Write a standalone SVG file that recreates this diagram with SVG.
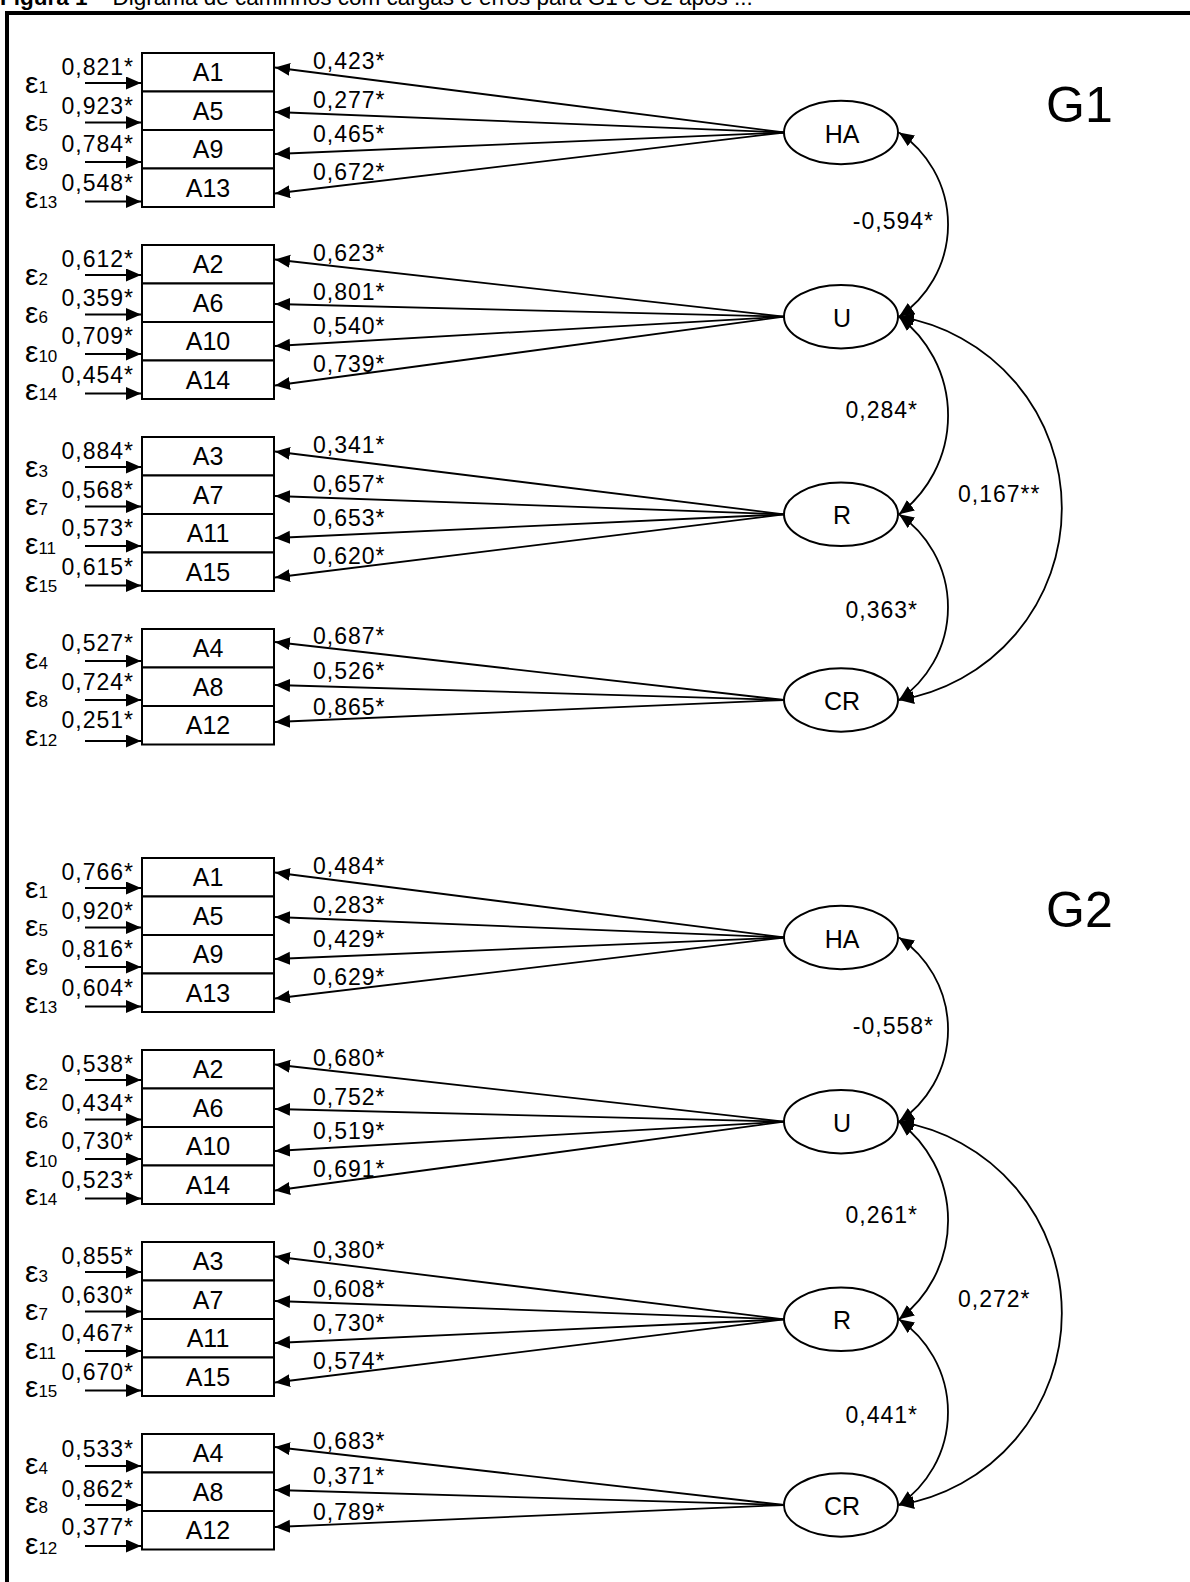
<svg xmlns="http://www.w3.org/2000/svg" width="1190" height="1582" viewBox="0 0 1190 1582">
<style>
.bx{fill:#fff;stroke:#000;stroke-width:2}
.el{fill:#fff;stroke:#000;stroke-width:2}
.ln{fill:none;stroke:#000;stroke-width:1.8;marker-end:url(#ah)}
.arc{fill:none;stroke:#000;stroke-width:1.8;marker-start:url(#ahs);marker-end:url(#ah)}
text{font-family:"Liberation Sans",Arial,sans-serif;fill:#000}
.lb{font-size:25px;text-anchor:middle}
.n{font-size:23px;letter-spacing:1px}
.r{text-anchor:end}
.e{font-size:30px}
.s{font-size:17px}
.g{font-size:50px}
</style>
<defs>
<marker id="ah" markerUnits="userSpaceOnUse" markerWidth="16" markerHeight="14" refX="15" refY="6.5" orient="auto"><path d="M0,0 L15,6.5 L0,13 z" fill="#000"/></marker>
<marker id="ahs" markerUnits="userSpaceOnUse" markerWidth="16" markerHeight="14" refX="15" refY="6.5" orient="auto-start-reverse"><path d="M0,0 L15,6.5 L0,13 z" fill="#000"/></marker>
</defs>
<rect width="1190" height="1582" fill="#fff"/>
<text x="0" y="5" font-size="22.5"><tspan font-weight="bold">Figura 1</tspan> – Digrama de caminhos com cargas e erros para G1 e G2 após ...</text>
<path d="M5,13 H1190 M7,11 V1582" stroke="#000" stroke-width="4" fill="none"/>

<!-- ===== G1 ===== -->
<text class="g" x="1046" y="121.5">G1</text>

<g id="g1-connectors">
<path class="ln" d="M85,83 H141"/><path class="ln" d="M85,122.5 H141"/><path class="ln" d="M85,162 H141"/><path class="ln" d="M85,201.5 H141"/>
<path class="ln" d="M85,275 H141"/><path class="ln" d="M85,314.5 H141"/><path class="ln" d="M85,354 H141"/><path class="ln" d="M85,393.5 H141"/>
<path class="ln" d="M85,467 H141"/><path class="ln" d="M85,506.5 H141"/><path class="ln" d="M85,546 H141"/><path class="ln" d="M85,585.5 H141"/>
<path class="ln" d="M85,661 H141"/><path class="ln" d="M85,700 H141"/><path class="ln" d="M85,741 H141"/>
<path class="ln" d="M784,132.5 L275,67.5"/><path class="ln" d="M784,132.5 L275,112"/><path class="ln" d="M784,132.5 L275,154"/><path class="ln" d="M784,132.5 L275,193.5"/>
<path class="ln" d="M784,316.7 L275,259.5"/><path class="ln" d="M784,316.7 L275,304"/><path class="ln" d="M784,316.7 L275,346"/><path class="ln" d="M784,316.7 L275,385.5"/>
<path class="ln" d="M784,514.3 L275,451.5"/><path class="ln" d="M784,514.3 L275,496"/><path class="ln" d="M784,514.3 L275,538"/><path class="ln" d="M784,514.3 L275,577.5"/>
<path class="ln" d="M784,700 L275,642"/><path class="ln" d="M784,700 L275,685"/><path class="ln" d="M784,700 L275,722"/>
<path class="arc" d="M899,132.5 A111,111 0 0 1 899,316.7"/>
<path class="arc" d="M899,316.7 A124,124 0 0 1 899,514.3"/>
<path class="arc" d="M899,514.3 A112.5,112.5 0 0 1 899,700"/>
<path class="arc" d="M899,316.7 A194.2,194.2 0 0 1 899,700"/>
<text class="n" x="313" y="68.5">0,423*</text><text class="n" x="313" y="107.5">0,277*</text><text class="n" x="313" y="141.5">0,465*</text><text class="n" x="313" y="180">0,672*</text>
<text class="n" x="313" y="260.5">0,623*</text><text class="n" x="313" y="299.5">0,801*</text><text class="n" x="313" y="333.5">0,540*</text><text class="n" x="313" y="372">0,739*</text>
<text class="n" x="313" y="452.5">0,341*</text><text class="n" x="313" y="491.5">0,657*</text><text class="n" x="313" y="525.5">0,653*</text><text class="n" x="313" y="564">0,620*</text>
<text class="n" x="313" y="644">0,687*</text><text class="n" x="313" y="679">0,526*</text><text class="n" x="313" y="715">0,865*</text>
<text class="n r" x="134" y="75">0,821*</text><text class="n r" x="134" y="113.5">0,923*</text><text class="n r" x="134" y="152">0,784*</text><text class="n r" x="134" y="190.5">0,548*</text>
<text class="n r" x="134" y="267">0,612*</text><text class="n r" x="134" y="305.5">0,359*</text><text class="n r" x="134" y="344">0,709*</text><text class="n r" x="134" y="382.5">0,454*</text>
<text class="n r" x="134" y="459">0,884*</text><text class="n r" x="134" y="497.5">0,568*</text><text class="n r" x="134" y="536">0,573*</text><text class="n r" x="134" y="574.5">0,615*</text>
<text class="n r" x="134" y="651">0,527*</text><text class="n r" x="134" y="689.5">0,724*</text><text class="n r" x="134" y="728">0,251*</text>
<text class="n r" x="934" y="229">-0,594*</text>
<text class="n r" x="918" y="418">0,284*</text>
<text class="n" x="958" y="502">0,167**</text>
<text class="n r" x="918" y="618">0,363*</text>
</g>

<g id="g1-errors">
<text class="e" x="25" y="93">ε<tspan class="s">1</tspan></text><text class="e" x="25" y="131.3">ε<tspan class="s">5</tspan></text><text class="e" x="25" y="169.6">ε<tspan class="s">9</tspan></text><text class="e" x="25" y="207.9">ε<tspan class="s">13</tspan></text>
<text class="e" x="25" y="285">ε<tspan class="s">2</tspan></text><text class="e" x="25" y="323.3">ε<tspan class="s">6</tspan></text><text class="e" x="25" y="361.6">ε<tspan class="s">10</tspan></text><text class="e" x="25" y="399.9">ε<tspan class="s">14</tspan></text>
<text class="e" x="25" y="477">ε<tspan class="s">3</tspan></text><text class="e" x="25" y="515.3">ε<tspan class="s">7</tspan></text><text class="e" x="25" y="553.6">ε<tspan class="s">11</tspan></text><text class="e" x="25" y="591.9">ε<tspan class="s">15</tspan></text>
<text class="e" x="25" y="669">ε<tspan class="s">4</tspan></text><text class="e" x="25" y="707.3">ε<tspan class="s">8</tspan></text><text class="e" x="25" y="745.6">ε<tspan class="s">12</tspan></text>
</g>

<g id="g1-A1"><rect class="bx" x="142" y="53" width="132" height="38.5"/><text class="lb" x="208" y="81.3">A1</text></g>
<g id="g1-A5"><rect class="bx" x="142" y="91.5" width="132" height="38.5"/><text class="lb" x="208" y="119.8">A5</text></g>
<g id="g1-A9"><rect class="bx" x="142" y="130" width="132" height="38.5"/><text class="lb" x="208" y="158.3">A9</text></g>
<g id="g1-A13"><rect class="bx" x="142" y="168.5" width="132" height="38.5"/><text class="lb" x="208" y="196.8">A13</text></g>
<g id="g1-A2"><rect class="bx" x="142" y="245" width="132" height="38.5"/><text class="lb" x="208" y="273.3">A2</text></g>
<g id="g1-A6"><rect class="bx" x="142" y="283.5" width="132" height="38.5"/><text class="lb" x="208" y="311.8">A6</text></g>
<g id="g1-A10"><rect class="bx" x="142" y="322" width="132" height="38.5"/><text class="lb" x="208" y="350.3">A10</text></g>
<g id="g1-A14"><rect class="bx" x="142" y="360.5" width="132" height="38.5"/><text class="lb" x="208" y="388.8">A14</text></g>
<g id="g1-A3"><rect class="bx" x="142" y="437" width="132" height="38.5"/><text class="lb" x="208" y="465.3">A3</text></g>
<g id="g1-A7"><rect class="bx" x="142" y="475.5" width="132" height="38.5"/><text class="lb" x="208" y="503.8">A7</text></g>
<g id="g1-A11"><rect class="bx" x="142" y="514" width="132" height="38.5"/><text class="lb" x="208" y="542.3">A11</text></g>
<g id="g1-A15"><rect class="bx" x="142" y="552.5" width="132" height="38.5"/><text class="lb" x="208" y="580.8">A15</text></g>
<g id="g1-A4"><rect class="bx" x="142" y="629" width="132" height="38.5"/><text class="lb" x="208" y="657.3">A4</text></g>
<g id="g1-A8"><rect class="bx" x="142" y="667.5" width="132" height="38.5"/><text class="lb" x="208" y="695.8">A8</text></g>
<g id="g1-A12"><rect class="bx" x="142" y="706" width="132" height="38.5"/><text class="lb" x="208" y="734.3">A12</text></g>

<g id="g1-HA"><ellipse class="el" cx="841" cy="132.5" rx="57" ry="31.8"/><text class="lb" x="842" y="142.5">HA</text></g>
<g id="g1-U"><ellipse class="el" cx="841" cy="316.7" rx="57" ry="31.8"/><text class="lb" x="842" y="326.7">U</text></g>
<g id="g1-R"><ellipse class="el" cx="841" cy="514.3" rx="57" ry="31.8"/><text class="lb" x="842" y="524.3">R</text></g>
<g id="g1-CR"><ellipse class="el" cx="841" cy="700" rx="57" ry="31.8"/><text class="lb" x="842" y="710">CR</text></g>

<!-- ===== G2 ===== -->
<text class="g" x="1046" y="926.5">G2</text>

<g id="g2-connectors">
<path class="ln" d="M85,888 H141"/><path class="ln" d="M85,927.5 H141"/><path class="ln" d="M85,967 H141"/><path class="ln" d="M85,1006.5 H141"/>
<path class="ln" d="M85,1080 H141"/><path class="ln" d="M85,1119.5 H141"/><path class="ln" d="M85,1159 H141"/><path class="ln" d="M85,1198.5 H141"/>
<path class="ln" d="M85,1272 H141"/><path class="ln" d="M85,1311.5 H141"/><path class="ln" d="M85,1351 H141"/><path class="ln" d="M85,1390.5 H141"/>
<path class="ln" d="M85,1466 H141"/><path class="ln" d="M85,1505 H141"/><path class="ln" d="M85,1546 H141"/>
<path class="ln" d="M784,937.5 L275,872.5"/><path class="ln" d="M784,937.5 L275,917"/><path class="ln" d="M784,937.5 L275,959"/><path class="ln" d="M784,937.5 L275,998.5"/>
<path class="ln" d="M784,1121.7 L275,1064.5"/><path class="ln" d="M784,1121.7 L275,1109"/><path class="ln" d="M784,1121.7 L275,1151"/><path class="ln" d="M784,1121.7 L275,1190.5"/>
<path class="ln" d="M784,1319.3 L275,1256.5"/><path class="ln" d="M784,1319.3 L275,1301"/><path class="ln" d="M784,1319.3 L275,1343"/><path class="ln" d="M784,1319.3 L275,1382.5"/>
<path class="ln" d="M784,1505 L275,1447"/><path class="ln" d="M784,1505 L275,1490"/><path class="ln" d="M784,1505 L275,1527"/>
<path class="arc" d="M899,937.5 A111,111 0 0 1 899,1121.7"/>
<path class="arc" d="M899,1121.7 A124,124 0 0 1 899,1319.3"/>
<path class="arc" d="M899,1319.3 A112.5,112.5 0 0 1 899,1505"/>
<path class="arc" d="M899,1121.7 A194.2,194.2 0 0 1 899,1505"/>
<text class="n" x="313" y="873.5">0,484*</text><text class="n" x="313" y="912.5">0,283*</text><text class="n" x="313" y="946.5">0,429*</text><text class="n" x="313" y="985">0,629*</text>
<text class="n" x="313" y="1065.5">0,680*</text><text class="n" x="313" y="1104.5">0,752*</text><text class="n" x="313" y="1138.5">0,519*</text><text class="n" x="313" y="1177">0,691*</text>
<text class="n" x="313" y="1257.5">0,380*</text><text class="n" x="313" y="1296.5">0,608*</text><text class="n" x="313" y="1330.5">0,730*</text><text class="n" x="313" y="1369">0,574*</text>
<text class="n" x="313" y="1449">0,683*</text><text class="n" x="313" y="1484">0,371*</text><text class="n" x="313" y="1520">0,789*</text>
<text class="n r" x="134" y="880">0,766*</text><text class="n r" x="134" y="918.5">0,920*</text><text class="n r" x="134" y="957">0,816*</text><text class="n r" x="134" y="995.5">0,604*</text>
<text class="n r" x="134" y="1072">0,538*</text><text class="n r" x="134" y="1110.5">0,434*</text><text class="n r" x="134" y="1149">0,730*</text><text class="n r" x="134" y="1187.5">0,523*</text>
<text class="n r" x="134" y="1264">0,855*</text><text class="n r" x="134" y="1302.5">0,630*</text><text class="n r" x="134" y="1341">0,467*</text><text class="n r" x="134" y="1379.5">0,670*</text>
<text class="n r" x="134" y="1457">0,533*</text><text class="n r" x="134" y="1497">0,862*</text><text class="n r" x="134" y="1535">0,377*</text>
<text class="n r" x="934" y="1034">-0,558*</text>
<text class="n r" x="918" y="1223">0,261*</text>
<text class="n" x="958" y="1307">0,272*</text>
<text class="n r" x="918" y="1423">0,441*</text>
</g>

<g id="g2-errors">
<text class="e" x="25" y="898">ε<tspan class="s">1</tspan></text><text class="e" x="25" y="936.3">ε<tspan class="s">5</tspan></text><text class="e" x="25" y="974.6">ε<tspan class="s">9</tspan></text><text class="e" x="25" y="1012.9">ε<tspan class="s">13</tspan></text>
<text class="e" x="25" y="1090">ε<tspan class="s">2</tspan></text><text class="e" x="25" y="1128.3">ε<tspan class="s">6</tspan></text><text class="e" x="25" y="1166.6">ε<tspan class="s">10</tspan></text><text class="e" x="25" y="1204.9">ε<tspan class="s">14</tspan></text>
<text class="e" x="25" y="1282">ε<tspan class="s">3</tspan></text><text class="e" x="25" y="1320.3">ε<tspan class="s">7</tspan></text><text class="e" x="25" y="1358.6">ε<tspan class="s">11</tspan></text><text class="e" x="25" y="1396.9">ε<tspan class="s">15</tspan></text>
<text class="e" x="25" y="1474">ε<tspan class="s">4</tspan></text><text class="e" x="25" y="1513.3">ε<tspan class="s">8</tspan></text><text class="e" x="25" y="1554">ε<tspan class="s">12</tspan></text>
</g>

<g id="g2-A1"><rect class="bx" x="142" y="858" width="132" height="38.5"/><text class="lb" x="208" y="886.3">A1</text></g>
<g id="g2-A5"><rect class="bx" x="142" y="896.5" width="132" height="38.5"/><text class="lb" x="208" y="924.8">A5</text></g>
<g id="g2-A9"><rect class="bx" x="142" y="935" width="132" height="38.5"/><text class="lb" x="208" y="963.3">A9</text></g>
<g id="g2-A13"><rect class="bx" x="142" y="973.5" width="132" height="38.5"/><text class="lb" x="208" y="1001.8">A13</text></g>
<g id="g2-A2"><rect class="bx" x="142" y="1050" width="132" height="38.5"/><text class="lb" x="208" y="1078.3">A2</text></g>
<g id="g2-A6"><rect class="bx" x="142" y="1088.5" width="132" height="38.5"/><text class="lb" x="208" y="1116.8">A6</text></g>
<g id="g2-A10"><rect class="bx" x="142" y="1127" width="132" height="38.5"/><text class="lb" x="208" y="1155.3">A10</text></g>
<g id="g2-A14"><rect class="bx" x="142" y="1165.5" width="132" height="38.5"/><text class="lb" x="208" y="1193.8">A14</text></g>
<g id="g2-A3"><rect class="bx" x="142" y="1242" width="132" height="38.5"/><text class="lb" x="208" y="1270.3">A3</text></g>
<g id="g2-A7"><rect class="bx" x="142" y="1280.5" width="132" height="38.5"/><text class="lb" x="208" y="1308.8">A7</text></g>
<g id="g2-A11"><rect class="bx" x="142" y="1319" width="132" height="38.5"/><text class="lb" x="208" y="1347.3">A11</text></g>
<g id="g2-A15"><rect class="bx" x="142" y="1357.5" width="132" height="38.5"/><text class="lb" x="208" y="1385.8">A15</text></g>
<g id="g2-A4"><rect class="bx" x="142" y="1434" width="132" height="38.5"/><text class="lb" x="208" y="1462.3">A4</text></g>
<g id="g2-A8"><rect class="bx" x="142" y="1472.5" width="132" height="38.5"/><text class="lb" x="208" y="1500.8">A8</text></g>
<g id="g2-A12"><rect class="bx" x="142" y="1511" width="132" height="38.5"/><text class="lb" x="208" y="1539.3">A12</text></g>

<g id="g2-HA"><ellipse class="el" cx="841" cy="937.5" rx="57" ry="31.8"/><text class="lb" x="842" y="947.5">HA</text></g>
<g id="g2-U"><ellipse class="el" cx="841" cy="1121.7" rx="57" ry="31.8"/><text class="lb" x="842" y="1131.7">U</text></g>
<g id="g2-R"><ellipse class="el" cx="841" cy="1319.3" rx="57" ry="31.8"/><text class="lb" x="842" y="1329.3">R</text></g>
<g id="g2-CR"><ellipse class="el" cx="841" cy="1505" rx="57" ry="31.8"/><text class="lb" x="842" y="1515">CR</text></g>
</svg>
